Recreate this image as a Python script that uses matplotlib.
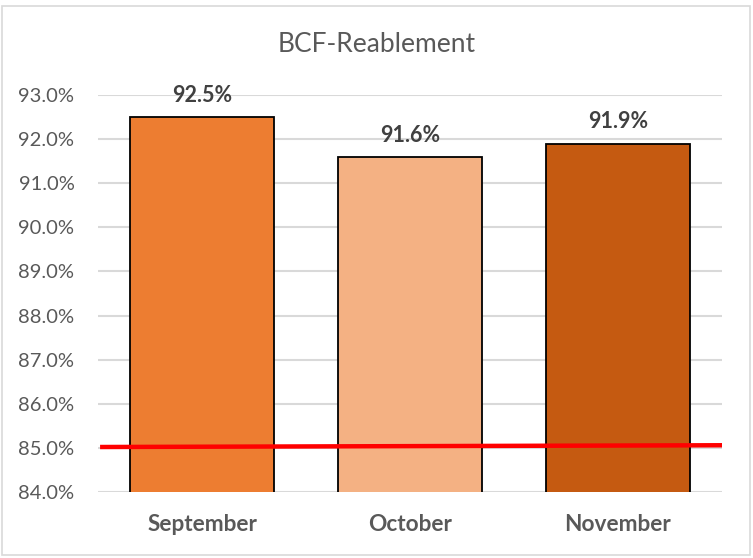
import matplotlib
matplotlib.use("Agg")
import matplotlib.pyplot as plt
from matplotlib.patches import Rectangle
from matplotlib.ticker import FuncFormatter

months = ["September", "October", "November"]
values = [92.5, 91.6, 91.9]
bar_colors = ["#ED7D31", "#F4B183", "#C55A11"]
target_x = [-0.49, 2.5]
target_y = [85.02, 85.06]
yticks = [84, 85, 86, 87, 88, 89, 90, 91, 92, 93]

plt.rcParams["font.family"] = ["Lato", "DejaVu Sans"]
GREY = "#595959"

fig = plt.figure(figsize=(7.53, 5.58), dpi=100)
ax = fig.add_axes([98 / 753, 1 - 492 / 558, (722 - 98) / 753, (492 - 95) / 558])

# outer chart border
fig.add_artist(Rectangle((0.002, 0.006), 0.994, 0.984, transform=fig.transFigure,
                         fill=False, edgecolor="#d9d9d9", lw=1.2))

x = list(range(len(months)))
ax.bar(x, values, width=0.69, color=bar_colors, edgecolor="black", lw=1.3, zorder=2)
for xi, v in zip(x, values):
    ax.annotate(f"{v:.1f}%", (xi, v), xytext=(0, 8), textcoords="offset points",
                ha="center", va="bottom", fontsize=15.5, fontweight="bold", color="#404040")

ax.plot(target_x, target_y, color="#FF0000", lw=3.2, zorder=3, solid_capstyle="butt")

ax.set_xlim(-0.5, 2.5)
ax.set_ylim(84, 93)
ax.set_yticks(yticks)
ax.yaxis.set_major_formatter(FuncFormatter(lambda v, _: f"{v:.1f}%"))
ax.set_xticks(x)
ax.set_xticklabels(months, fontsize=16.3, fontweight="bold", color=GREY)
ax.tick_params(axis="y", labelsize=14.5, labelcolor=GREY, length=0, pad=17)
ax.tick_params(axis="x", length=0, pad=16)
ax.grid(axis="y", color="#d9d9d9", lw=1.5, zorder=0)
ax.set_axisbelow(True)
for s in ax.spines.values():
    s.set_visible(False)

fig.text(0.5, 1 - 45 / 558, "BCF-Reablement", ha="center", va="center", fontsize=19, color=GREY)

fig.savefig("out.png", dpi=100)
